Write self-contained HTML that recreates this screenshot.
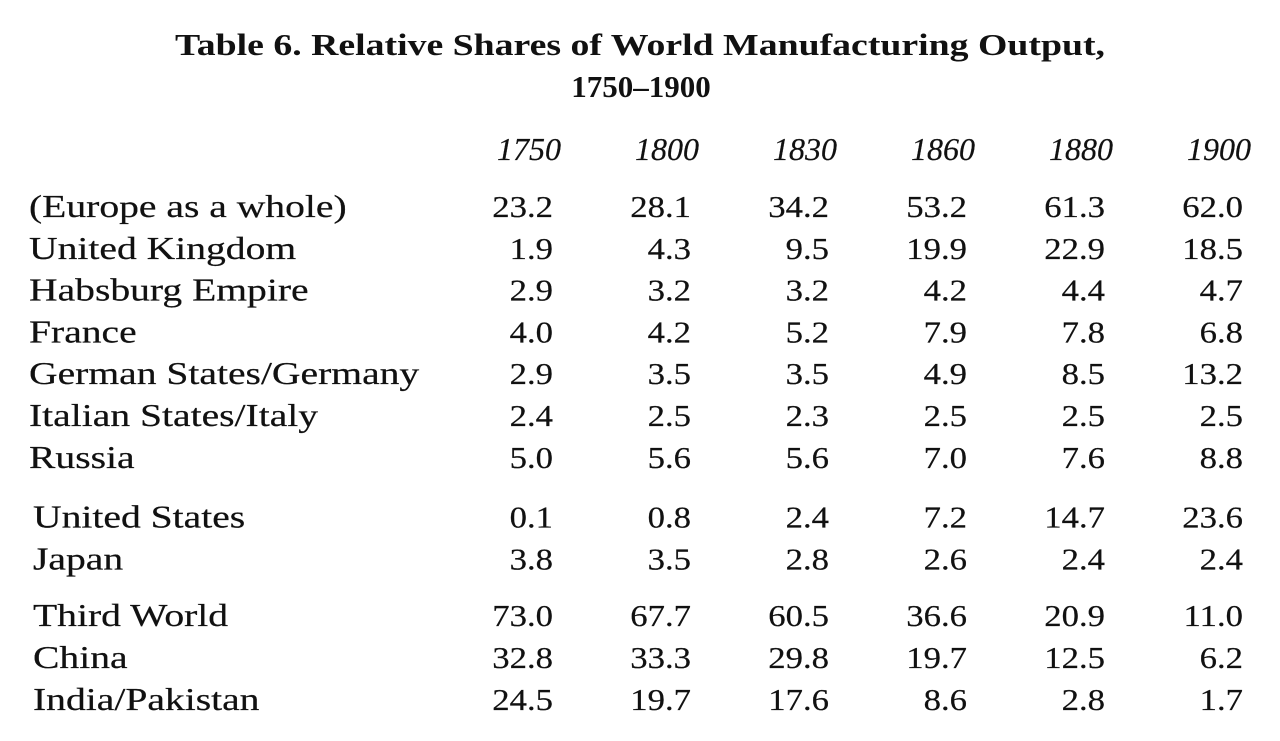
<!DOCTYPE html>
<html><head><meta charset="utf-8"><style>
html,body{margin:0;padding:0;background:#fff;}
svg{display:block;}
text{font-family:"Liberation Serif",serif;fill:#111;stroke:#111;stroke-width:0.2px;}
text.t{stroke:none;}
</style></head><body>
<svg id="tbl" width="1280" height="741" viewBox="0 0 1280 741">
<text class="t" x="640" y="55" text-anchor="middle" font-size="31" font-weight="bold" textLength="930" lengthAdjust="spacingAndGlyphs">Table 6. Relative Shares of World Manufacturing Output,</text>
<text class="t" x="641" y="97" text-anchor="middle" font-size="31" font-weight="bold">1750–1900</text>
</svg>
<script>
const years = ["1750","1800","1830","1860","1880","1900"];
const regions = ["(Europe as a whole)","United Kingdom","Habsburg Empire","France","German States/Germany","Italian States/Italy","Russia","United States","Japan","Third World","China","India/Pakistan"];
const v1750 = [23.2,1.9,2.9,4.0,2.9,2.4,5.0,0.1,3.8,73.0,32.8,24.5];
const v1800 = [28.1,4.3,3.2,4.2,3.5,2.5,5.6,0.8,3.5,67.7,33.3,19.7];
const v1830 = [34.2,9.5,3.2,5.2,3.5,2.3,5.6,2.4,2.8,60.5,29.8,17.6];
const v1860 = [53.2,19.9,4.2,7.9,4.9,2.5,7.0,7.2,2.6,36.6,19.7,8.6];
const v1880 = [61.3,22.9,4.4,7.8,8.5,2.5,7.6,14.7,2.4,20.9,12.5,2.8];
const v1900 = [62.0,18.5,4.7,6.8,13.2,2.5,8.8,23.6,2.4,11.0,6.2,1.7];
const cols=[v1750,v1800,v1830,v1860,v1880,v1900];
const svg=document.getElementById('tbl');
const NS="http://www.w3.org/2000/svg";
function colRight(i){return 553+i*138;}
function rowY(r){let y=217+r*41.8; if(r>=7) y+=18; if(r>=9) y+=15; return y;}
years.forEach((yr,i)=>{
  const t=document.createElementNS(NS,'text');
  
  
  t.setAttribute('x',colRight(i)+8);t.setAttribute('y',160);
  t.setAttribute('text-anchor','end');t.setAttribute('font-size','32');t.setAttribute('font-style','italic');
  t.textContent=yr;svg.appendChild(t);
});
regions.forEach((rg,r)=>{
  const t=document.createElementNS(NS,'text');
  
  
  t.setAttribute('transform','translate('+(r>=7?33:29)+','+rowY(r)+') scale(1.32,1.05)');
  t.setAttribute('font-size','30');
  t.textContent=rg;svg.appendChild(t);
  cols.forEach((c,i)=>{
    const n=document.createElementNS(NS,'text');
    
    
    n.setAttribute('transform','translate('+colRight(i)+','+rowY(r)+') scale(1.12,1)');
    n.setAttribute('text-anchor','end');n.setAttribute('font-size','31');
    n.textContent=c[r].toFixed(1);svg.appendChild(n);
  });
});
</script>
</body></html>
